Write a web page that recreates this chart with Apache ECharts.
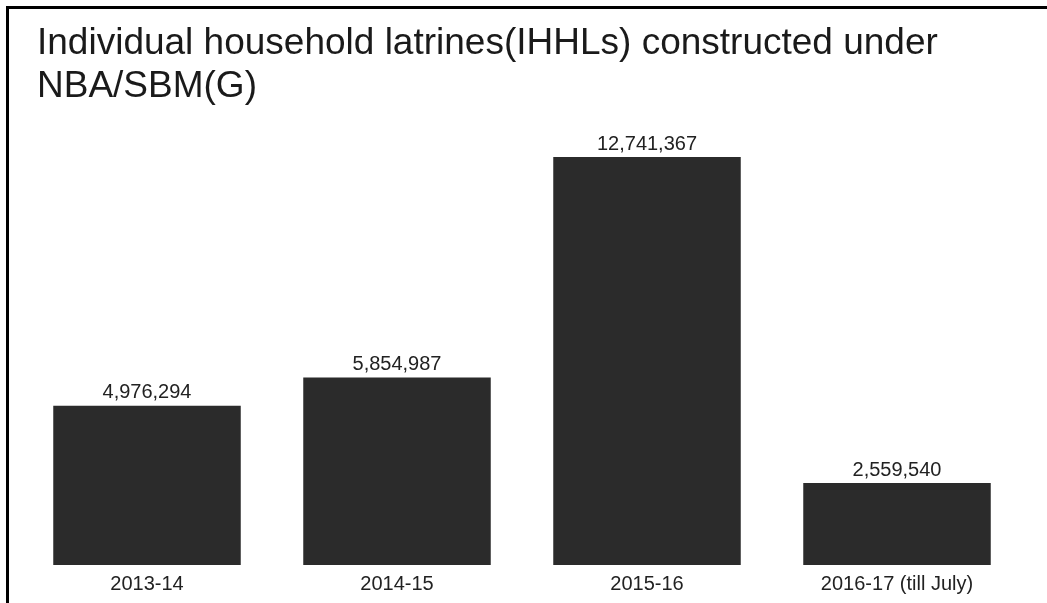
<!DOCTYPE html>
<html>
<head>
<meta charset="utf-8">
<script src="https://cdn.jsdelivr.net/npm/echarts@6/dist/echarts.min.js"></script>
<style>
  html, body { margin: 0; padding: 0; background: #fff; }
  #chart { width: 1047px; height: 603px; }
  #frame { position: absolute; left: 6px; top: 6px; right: 0; bottom: 0;
    border-left: 3px solid #000; border-top: 3px solid #000; pointer-events: none; }
</style>
</head>
<body>
<div id="chart"></div>
<div id="frame"></div>
<script>
// years (x axis) and IHHLs built
const years = ['2013-14', '2014-15', '2015-16', '2016-17 (till July)']
const latrines = [4976294, 5854987, 12741367, 2559540]

const chart = echarts.init(document.getElementById('chart'))
const fmt = v => v.toLocaleString('en-US')

chart.setOption({
  animation: false,
  title: {
    text: 'Individual household latrines(IHHLs) constructed under\nNBA/SBM(G)',
    left: 32, top: 17,
    textStyle: { fontFamily: 'Liberation Sans', fontSize: 37, fontWeight: 'normal', color: '#1a1a1a', lineHeight: 43 }
  },
  grid: { left: 22, right: 25, top: 157, bottom: 38 },
  xAxis: {
    type: 'category', data: years,
    axisLine: { show: false }, axisTick: { show: false },
    axisLabel: { fontFamily: 'Liberation Sans', fontSize: 20, color: '#222', margin: 9 }
  },
  yAxis: { type: 'value', min: 0, max: 'dataMax', show: false, splitLine: { show: false } },
  series: [{
    type: 'bar', data: latrines, barWidth: '75%',
    itemStyle: { color: '#2b2b2b' },
    label: { show: true, position: 'top', distance: 3, formatter: p => fmt(p.value),
      fontFamily: 'Liberation Sans', fontSize: 20, color: '#222' }
  }]
})
</script>
</body>
</html>
